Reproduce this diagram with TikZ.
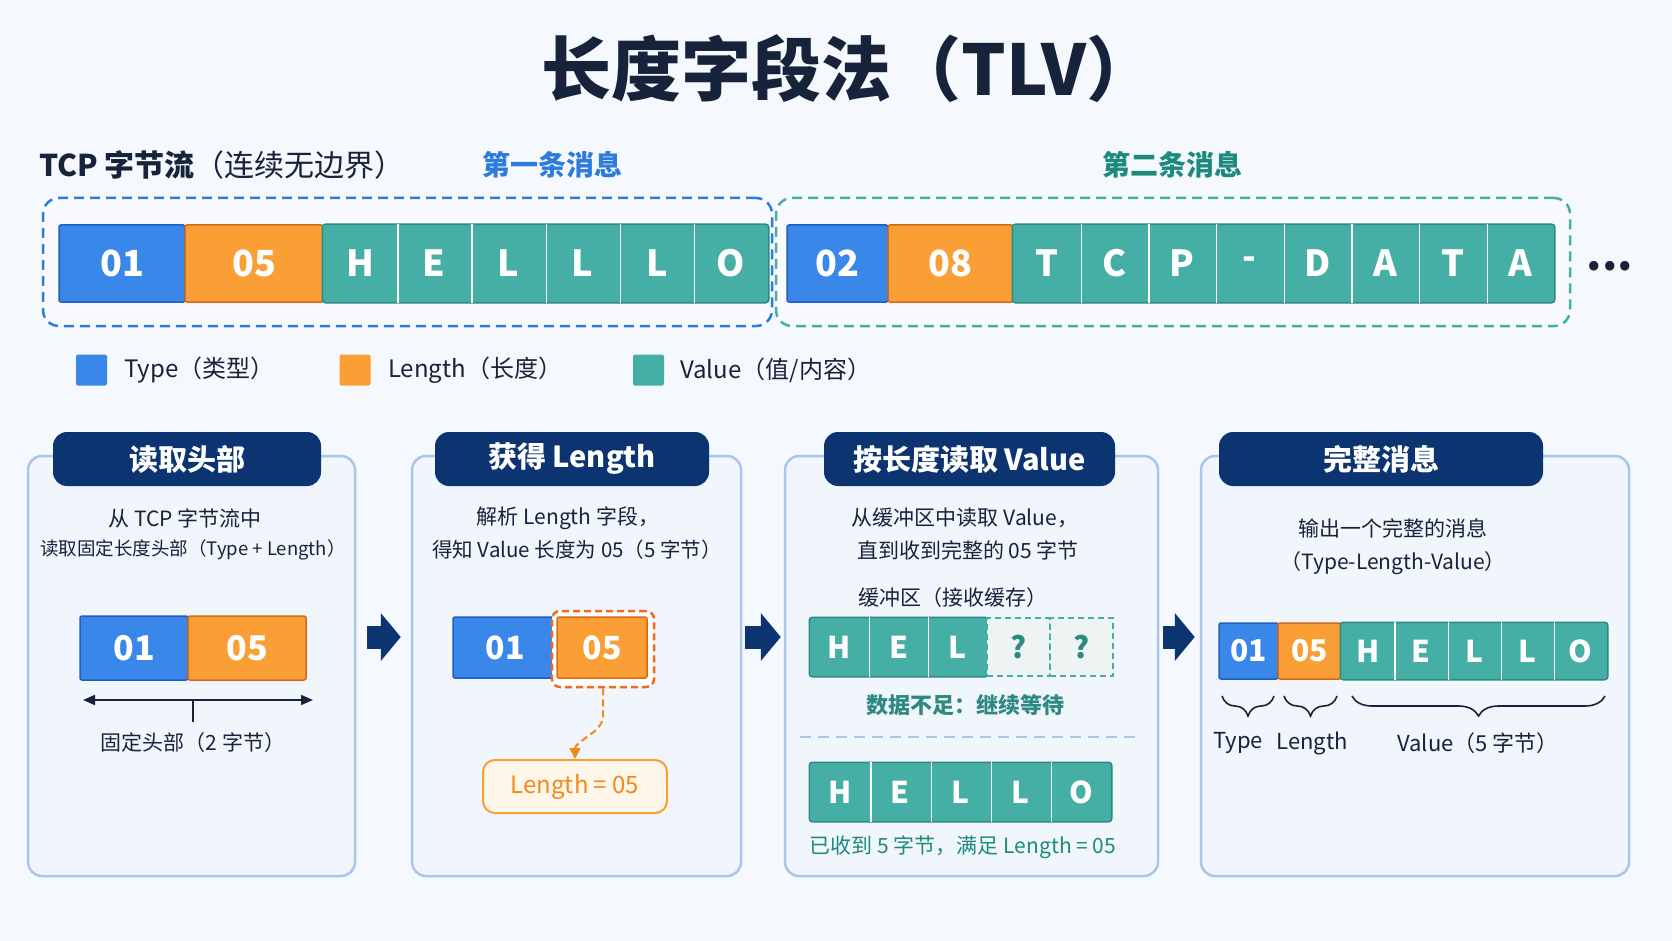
\documentclass[tikz,border=0pt]{standalone}
\usepackage{fontspec}
\setmainfont{Noto Sans CJK SC}
\usepackage{tikz}
\usetikzlibrary{arrows.meta,decorations.pathreplacing}
\newcommand{\fsz}[1]{\fontsize{#1}{#1}\selectfont}
\definecolor{bg}{HTML}{F5F8FC}
\definecolor{navy}{HTML}{0B3470}
\definecolor{ink}{HTML}{17223B}
\definecolor{tblue}{HTML}{3A87EA}
\definecolor{tbluedk}{HTML}{1F5FC0}
\definecolor{torange}{HTML}{F99F35}
\definecolor{torangedk}{HTML}{D8691C}
\definecolor{lentext}{HTML}{F08A1C}
\definecolor{lenbg}{HTML}{FFF6EA}
\definecolor{tteal}{HTML}{45AFA6}
\definecolor{ttealdk}{HTML}{2C8A80}
\definecolor{qbg}{HTML}{EDF4F3}
\definecolor{panelbd}{HTML}{A9C7EA}
\definecolor{panelbg}{HTML}{F1F5FC}
\definecolor{hl}{HTML}{F26A22}
\definecolor{blabel}{HTML}{2C7BDD}
\definecolor{glabel}{HTML}{1C8A7E}
\tikzset{
    cell/.style={rectangle, inner sep=0pt, text=white, font=\bfseries\fsz{36}, line width=1.5pt, rounded corners=2pt},
    tcell/.style={cell, fill=tblue, draw=tbluedk},
    lcell/.style={cell, fill=torange, draw=torangedk},
    vcell/.style={cell, fill=tteal, rounded corners=0pt},
    qcell/.style={cell, fill=qbg, draw=tteal, dashed, dash pattern=on 6pt off 4pt, text=ttealdk, rounded corners=0pt},
    msgbox/.style={rectangle, dashed, dash pattern=on 10pt off 6pt, line width=2.5pt, rounded corners=16pt, fill=white, fill opacity=0.4, text opacity=1},
    key/.style={rectangle, minimum size=31pt, inner sep=0pt, rounded corners=2pt},
    body/.style={text=ink, font=\fsz{21}, inner sep=0pt},
    panel/.style={rectangle, draw=panelbd, fill=panelbg, line width=2.5pt, rounded corners=14pt, inner sep=0pt},
    hdr/.style={rectangle, fill=navy, text=white, rounded corners=14pt, minimum height=54pt, inner sep=0pt, font=\bfseries\fsz{29}},
    panel arrow/.style={draw=navy, line width=23pt, -{Triangle[length=20pt,width=47pt]}} % block arrow between steps
}
\begin{document}
\begin{tikzpicture}[x=1pt,y=-1pt]
\fill[bg] (0,0) rectangle (1672,941);
\useasboundingbox (0,0) rectangle (1672,941);

\node[font=\bfseries\fsz{70}, text=ink] (title) at (849,69) {长度字段法（TLV）};

% byte stream
\node[anchor=west, body, font=\fsz{30}] (stream) at (39,165) {{\bfseries TCP 字节流}（连续无边界）};
\node[font=\bfseries\fsz{28}, text=blabel] (m1lab) at (552,165) {第一条消息};
\node[font=\bfseries\fsz{28}, text=glabel] (m2lab) at (1172,165) {第二条消息};
\node[msgbox, draw=blabel, minimum width=729pt, minimum height=128pt] (M1) at (407.5,262) {};
\node[msgbox, draw=tteal, minimum width=794pt, minimum height=128pt] (M2) at (1173,262) {};

\node[tcell, minimum width=126pt, minimum height=77pt] (T1) at (122,263.5) {01};
\node[lcell, minimum width=138pt, minimum height=77pt] (L1) at (254,263.5) {05};
\foreach \c [count=\i] in {H,E,L,L,L,O}
  \node[vcell, minimum width=74.17pt, minimum height=77pt] (V1\i) at ({323+74.17*(\i-0.5)},263.5) {\c};
\draw[ttealdk, line width=1.5pt, rounded corners=3pt] (V11.north west) rectangle (V16.south east);
\foreach \i in {1,...,5} \draw[white, line width=1.2pt] (V1\i.north east) -- (V1\i.south east);

\node[tcell, minimum width=101pt, minimum height=77pt] (T2) at (837.5,263.5) {02};
\node[lcell, minimum width=125pt, minimum height=77pt] (L2) at (950.5,263.5) {08};
\foreach \c [count=\i] in {T,C,P,-,D,A,T,A}
  \node[vcell, minimum width=67.63pt, minimum height=77pt] (V2\i) at ({1013+67.63*(\i-0.5)},263.5) {\c};
\draw[ttealdk, line width=1.5pt, rounded corners=3pt] (V21.north west) rectangle (V28.south east);
\foreach \i in {1,...,7} \draw[white, line width=1.2pt] (V2\i.north east) -- (V2\i.south east);
\node[anchor=base, font=\bfseries\fsz{44}, text=ink] (more) at (1610,270) {...};

% legend
\node[key, fill=tblue] (k1) at (91.5,370) {};
\node[body, anchor=west, font=\fsz{24}] (k1t) at (124,370) {Type（类型）};
\node[key, fill=torange] (k2) at (355,370) {};
\node[body, anchor=west, font=\fsz{24}] (k2t) at (388,370) {Length（长度）};
\node[key, fill=tteal] (k3) at (648.5,370) {};
\node[body, anchor=west, font=\fsz{24}] (k3t) at (680,370) {Value（值/内容）};

% four steps
\node[panel, minimum width=327pt, minimum height=420pt] (P1) at (191.5,666) {};
\node[panel, minimum width=329pt, minimum height=420pt] (P2) at (576.5,666) {};
\node[panel, minimum width=373pt, minimum height=420pt] (P3) at (971.5,666) {};
\node[panel, minimum width=428pt, minimum height=420pt] (P4) at (1415,666) {};
\node[hdr, minimum width=268pt] (H1) at (187,459) {读取头部};
\node[hdr, minimum width=274pt] (H2) at (572,459) {获得 Length\vphantom{读}};
\node[hdr, minimum width=291pt] (H3) at (969.5,459) {按长度读取 Value};
\node[hdr, minimum width=324pt] (H4) at (1381,459) {完整消息};
\draw[panel arrow, shorten <=11pt, shorten >=10pt] ([yshift=29pt]P1.east) -- ([yshift=29pt]P2.west);
\draw[panel arrow, shorten <=3pt, shorten >=3pt] ([yshift=29pt]P2.east) -- ([yshift=29pt]P3.west);
\draw[panel arrow, shorten <=4pt, shorten >=5pt] ([yshift=29pt]P3.east) -- ([yshift=29pt]P4.west);

% step 1
\node[body] (a1) at (185,518) {从 TCP 字节流中};
\node[body, font=\fsz{18.5}] (a2) at (193,550) {读取固定长度头部（Type + Length）};
\node[tcell, font=\bfseries\fsz{34}, minimum width=108pt, minimum height=64pt] (T3) at (134,648) {01};
\node[lcell, font=\bfseries\fsz{34}, minimum width=118pt, minimum height=64pt] (L3) at (247,648) {05};
\coordinate (d1) at (83,700);
\coordinate (d2) at (313,700);
\coordinate (d3) at (193,700);
\coordinate (d4) at (193,722);
\draw[ink, line width=1.8pt, {Triangle[length=12pt,width=10pt]}-{Triangle[length=12pt,width=10pt]}] (d1) -- (d2);
\draw[ink, line width=1.8pt] (d3) -- (d4);
\node[body] (a3) at (193,743) {固定头部（2 字节）};

% step 2
\node[body] (b1) at (568,518) {解析 Length 字段，};
\node[body, font=\fsz{20.5}] (b2) at (577,550) {得知 Value 长度为 05（5 字节）};
\node[tcell, font=\bfseries\fsz{32}, minimum width=104pt, minimum height=61pt] (T4) at (505,647.5) {01};
\node[draw=hl, dashed, dash pattern=on 7pt off 4pt, line width=2.5pt, fill=white, rounded corners=8pt, minimum width=102pt, minimum height=76pt, inner sep=0pt] (HL) at (603,649) {};
\node[lcell, font=\bfseries\fsz{32}, minimum width=90pt, minimum height=61pt] (L4) at (602,647.5) {05};
\node[draw=torange, fill=lenbg, line width=2pt, rounded corners=12pt, minimum width=184pt, minimum height=53pt, inner sep=0pt, text=lentext, font=\fsz{24}] (LB) at (575,786.5) {Length = 05};
\draw[lentext, dashed, dash pattern=on 7pt off 4pt, line width=2pt, -{Triangle[length=11pt,width=11pt]}] (HL.south) -- ++(0,28) .. controls +(0,16) and +(0,-18) .. (LB.north);

% step 3
\node[body] (c1) at (965,518) {从缓冲区中读取 Value，};
\node[body] (c2) at (968,550) {直到收到完整的 05 字节};
\node[body] (c3) at (953,598) {缓冲区（接收缓存）};
\foreach \c [count=\i] in {H,E,L}
  \node[vcell, font=\bfseries\fsz{30}, minimum width=59pt, minimum height=58pt] (V3\i) at ({810+59*(\i-0.5)},647) {\c};
\draw[ttealdk, line width=1.5pt, rounded corners=3pt] (V31.north west) rectangle (V33.south east);
\foreach \i in {1,2} \draw[white, line width=1.2pt] (V3\i.north east) -- (V3\i.south east);
\node[qcell, font=\bfseries\fsz{30}, minimum width=63pt, minimum height=58pt] (Q1) at (1018.5,647) {?};
\node[qcell, font=\bfseries\fsz{30}, minimum width=63pt, minimum height=58pt] (Q2) at (1081.5,647) {?};
\node[font=\bfseries\fsz{22}, text=ttealdk] (c4) at (965,705) {数据不足：继续等待};
\coordinate (s1) at (800,737);
\coordinate (s2) at (1140,737);
\draw[panelbd, line width=2pt, dashed, dash pattern=on 11pt off 7pt] (s1) -- (s2);
\foreach \c [count=\i] in {H,E,L,L,O}
  \node[vcell, font=\bfseries\fsz{30}, minimum width=60.2pt, minimum height=58pt] (V4\i) at ({810+60.2*(\i-0.5)},792) {\c};
\draw[ttealdk, line width=1.5pt, rounded corners=3pt] (V41.north west) rectangle (V45.south east);
\foreach \i in {1,...,4} \draw[white, line width=1.2pt] (V4\i.north east) -- (V4\i.south east);
\node[body, text=glabel] (c5) at (963,847) {已收到 5 字节，满足 Length = 05};

% step 4
\node[body] (e1) at (1393,528) {输出一个完整的消息};
\node[body] (e2) at (1393,563) {（Type-Length-Value）};
\node[tcell, font=\bfseries\fsz{30}, minimum width=59pt, minimum height=56pt] (T5) at (1248.5,651) {01};
\node[lcell, font=\bfseries\fsz{30}, minimum width=63pt, minimum height=56pt] (L5) at (1309.5,651) {05};
\foreach \c [count=\i] in {H,E,L,L,O}
  \node[vcell, font=\bfseries\fsz{30}, minimum width=53.2pt, minimum height=56pt] (V5\i) at ({1341+53.2*(\i-0.5)},651) {\c};
\draw[ttealdk, line width=1.5pt, rounded corners=3pt] (V51.north west) rectangle (V55.south east);
\foreach \i in {1,...,4} \draw[white, line width=1.2pt] (V5\i.north east) -- (V5\i.south east);
\coordinate (r1) at (1222,696);
\coordinate (r2) at (1274,696);
\coordinate (r3) at (1284,696);
\coordinate (r4) at (1337,696);
\coordinate (r5) at (1352,696);
\coordinate (r6) at (1605,696);
\draw[ink, line width=1.6pt, decorate, decoration={brace, mirror, amplitude=20pt}] (r1) -- (r2);
\draw[ink, line width=1.6pt, decorate, decoration={brace, mirror, amplitude=20pt}] (r3) -- (r4);
\draw[ink, line width=1.6pt, decorate, decoration={brace, mirror, amplitude=20pt}] (r5) -- (r6);
\node[body, font=\fsz{22}] (e3) at (1238,743) {Type};
\node[body, font=\fsz{22}] (e4) at (1312,743) {Length};
\node[body, font=\fsz{22}] (e5) at (1478,743) {Value（5 字节）};
\end{tikzpicture}
\end{document}
